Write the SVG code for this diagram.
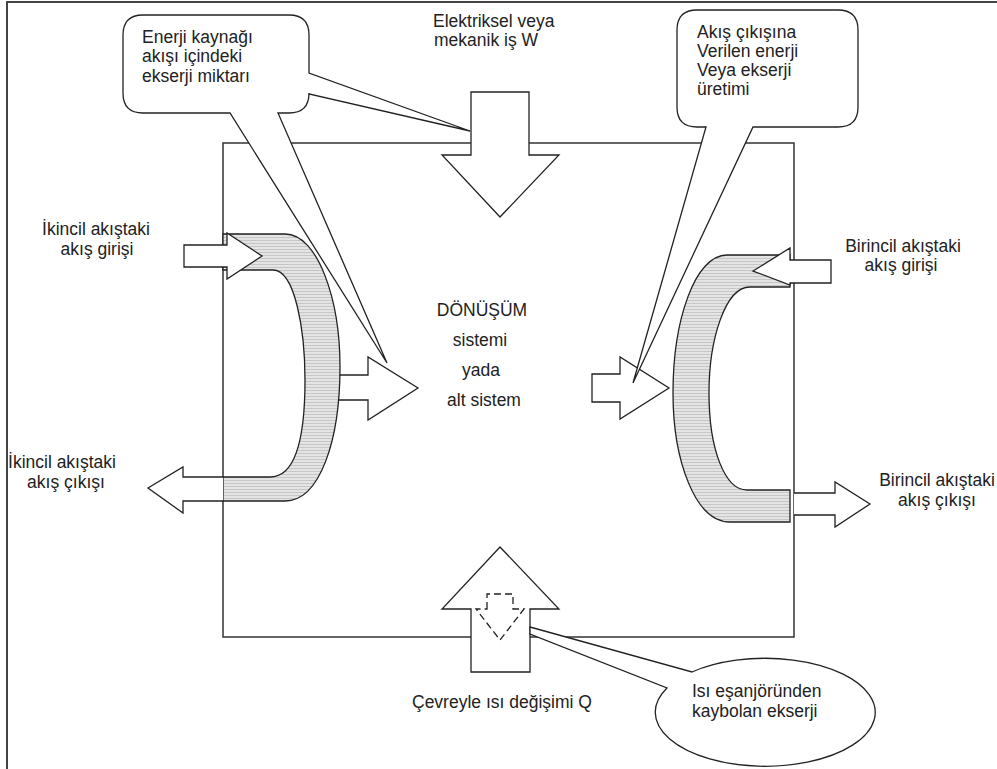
<svg xmlns="http://www.w3.org/2000/svg" width="997" height="769" viewBox="0 0 997 769">
<style>
.t{font-family:"Liberation Sans",Arial,sans-serif;font-size:17.5px;fill:#222}
.m{text-anchor:middle}
.s{fill:#fff;stroke:#222;stroke-width:1.3;stroke-linejoin:miter}
.band{fill:url(#hatch);stroke:#222;stroke-width:1.3}
.frame{fill:none;stroke:#444;stroke-width:2}
.box{fill:none;stroke:#333;stroke-width:1.5}
.dash{fill:none;stroke:#222;stroke-width:1.3;stroke-dasharray:7,4}
</style>
<defs>
<pattern id="hatch" width="4" height="3" patternUnits="userSpaceOnUse">
<rect width="4" height="3" fill="#e4e4e4"/>
<rect width="4" height="1" fill="#c6c6c6"/>
</pattern>
</defs>
<rect width="997" height="769" fill="#fff"/>
<g id="frame">
<line class="frame" x1="6" y1="2" x2="997" y2="2"/>
<line class="frame" x1="7" y1="2" x2="7" y2="769"/>
</g>
<g id="system">
<rect class="box" x="223" y="143" width="571" height="494"/>
<text class="t m" x="482" y="316">DÖNÜŞÜM</text>
<text class="t m" x="480" y="346">sistemi</text>
<text class="t m" x="481" y="376">yada</text>
<text class="t m" x="484" y="406">alt sistem</text>
</g>
<g id="connectors">
<g id="work-in">
<path class="s" d="M471,92 H529 V155 H559 L500,217 L442,155 H471 Z"/>
</g>
<g id="heat-exchange">
<path class="s" d="M471,672 V609 H442 L500,547 L559,609 H530 V672 Z"/>
<path class="dash" d="M487,609 V594 H513 V609 H524 L500,640 L476,609 Z"/>
</g>
<g id="secondary-stream">
<path class="s" d="M338,375 H368 V357 L418,388 L368,420 V400 H338 Z"/>
<path class="band" d="M223,234 H285 C318,234 340,300 340,367 C340,440 320,501 285,501 H223 V477 H270 C295,477 305,440 305,380 C305,330 295,270 273,270 H223 Z"/>
<path class="s" d="M184,245 H227 V233 L262,256 L227,279 V267 H184 Z"/>
<path class="s" d="M223,477 H183 V467 L148,488 L183,513 V501 H223"/>
</g>
<g id="primary-stream">
<path class="s" d="M592,374 H620 V357 L669,388 L620,419 V402 H592 Z"/>
<path class="band" d="M790,255 H727 C695,255 673,320 673,393 C673,460 695,522 730,522 H790 V490 H747 C725,490 709,450 709,393 C709,340 725,287 750,287 H790 Z"/>
<path class="s" d="M831,260 H790 V248 L753,271 L790,285 V283 H831 Z"/>
<path class="s" d="M794,493 H835 V482 L870,504 L835,527 V515 H794"/>
</g>
</g>
<g id="labels">
<text class="t" x="433" y="27">Elektriksel veya</text>
<text class="t" x="434" y="46">mekanik iş W</text>
<text class="t m" x="96" y="235">İkincil akıştaki</text>
<text class="t m" x="97" y="255">akış girişi</text>
<text class="t m" x="62" y="468">İkincil akıştaki</text>
<text class="t m" x="66" y="488">akış çıkışı</text>
<text class="t m" x="903" y="252">Birincil akıştaki</text>
<text class="t m" x="901" y="271">akış girişi</text>
<text class="t m" x="937" y="486">Birincil akıştaki</text>
<text class="t m" x="937" y="506">akış çıkışı</text>
<text class="t" x="412" y="708">Çevreyle ısı değişimi Q</text>
</g>
<g id="callout-exergy-source">
<path class="s" d="M143,15 H289 Q309,15 309,35 V73 L470,131 L309,94 V93 Q309,113 289,113 H278 L387,363 L230,113 H143 Q123,113 123,93 V35 Q123,15 143,15 Z"/>
<text class="t" x="142" y="43">Enerji kaynağı</text>
<text class="t" x="142" y="62">akışı içindeki</text>
<text class="t" x="142" y="82">ekserji miktarı</text>
</g>
<g id="callout-exergy-output">
<path class="s" d="M697,10 H838 Q858,10 858,30 V107 Q858,127 838,127 H753 L633,383 L706,127 H697 Q677,127 677,107 V30 Q677,10 697,10 Z"/>
<text class="t" x="697" y="38">Akış çıkışına</text>
<text class="t" x="697" y="57">Verilen enerji</text>
<text class="t" x="697" y="76">Veya ekserji</text>
<text class="t" x="697" y="95">üretimi</text>
</g>
<g id="callout-exergy-loss">
<path class="s" d="M530,627 L692,672 A110,54 0 1 1 667,688 L530,634 Z"/>
<text class="t" x="692" y="697">Isı eşanjöründen</text>
<text class="t" x="692" y="717">kaybolan ekserji</text>
</g>
</svg>
